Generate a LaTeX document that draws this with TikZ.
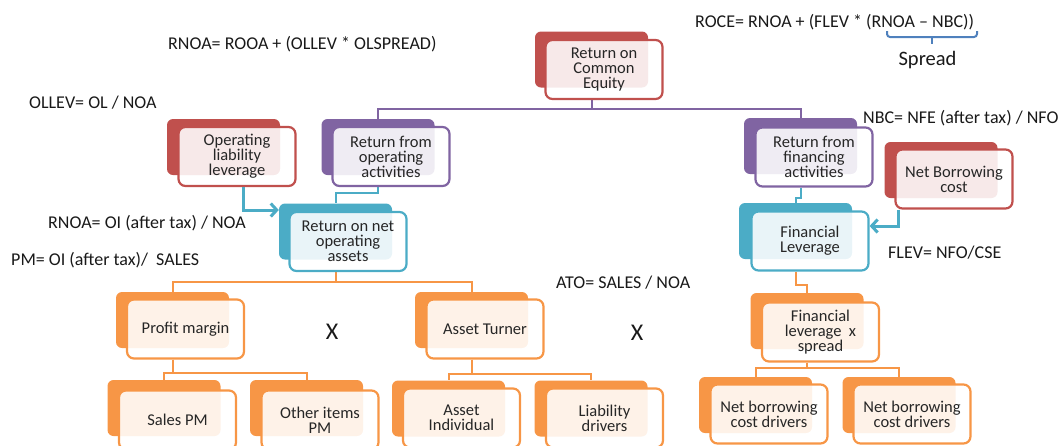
\documentclass[tikz,border=0pt]{standalone}
\usepackage{fontspec}
\setmainfont{Carlito}
\usetikzlibrary{arrows.meta,backgrounds,calc}
\definecolor{cred}{HTML}{C0504D}
\definecolor{cpur}{HTML}{8064A2}
\definecolor{cteal}{HTML}{4BACC6}
\definecolor{corg}{HTML}{F79646}
\definecolor{cblue}{HTML}{4F81BD}
\tikzset{
 backbox/.style={rounded corners=6pt, fill=#1, draw=none, minimum width=113pt, minimum height=56pt, inner sep=0pt},
 frontbox/.style={rounded corners=7pt, draw=#1, line width=2.2pt, fill=white, fill opacity=0.88, text opacity=1, minimum width=117pt, minimum height=59pt, inner sep=0pt, align=center, font=\fontsize{16.5}{15}\selectfont, text=black!85},
 conn/.style={draw=#1, line width=2pt},
 arr/.style={draw=cteal, line width=3pt, -{Straight Barb[length=6pt,width=13pt]}},
 lbl/.style={inner sep=0pt, font=\fontsize{18}{20}\selectfont, text=black!90, anchor=west},
}
\newcommand\smbox[5]{\node[backbox=#2] (#1b) at #3 {}; \node[frontbox=#2] (#1) at #4 {#5};}
\begin{document}
\begin{tikzpicture}[x=1pt,y=-1pt]
\useasboundingbox (0,0) rectangle (1063,445);
\clip (0,0) rectangle (1063,445);
% boxes
\smbox{rce}{cred}{(591.5,59.5)}{(604,69.5)}{Return on\\Common\\Equity}
\smbox{oll}{cred}{(223.5,147)}{(237,156.5)}{Operating\\liability\\leverage}
\smbox{rfo}{cpur}{(378,147)}{(391,156.5)}{Return from\\operating\\activities}
\smbox{rnoa}{cteal}{(335.5,231.5)}{(348,241.5)}{Return on net\\operating\\assets}
\smbox{rff}{cpur}{(800.5,146)}{(814,157)}{Return from\\financing\\activities}
\smbox{nbc}{cred}{(941,170)}{(954,179)}{Net Borrowing\\cost}
\smbox{fl}{cteal}{(795.5,231)}{(810,241)}{Financial\\Leverage}
\smbox{pm}{corg}{(172.5,320)}{(185.5,329)}{Profit margin}
\smbox{at}{corg}{(471.5,320)}{(485,329)}{Asset Turner}
\smbox{flx}{corg}{(807,321)}{(820.5,332)}{Financial\\leverage\ \ x\\spread}
\smbox{sales}{corg}{(164,408)}{(177.5,420)}{Sales PM}
\smbox{other}{corg}{(306.5,408)}{(320,420)}{Other items\\PM}
\smbox{ai}{corg}{(448.5,408.5)}{(461.5,418)}{Asset\\Individual}
\smbox{ld}{corg}{(591,408.5)}{(604.5,418)}{Liability\\drivers}
\smbox{da}{corg}{(755.5,405)}{(769,414)}{Net borrowing\\cost drivers}
\smbox{db}{corg}{(899,405)}{(912,414)}{Net borrowing\\cost drivers}
% connectors
\begin{pgfonlayer}{background}
\draw[conn=cpur] (rceb.south |- rce.south) -- ++(0,9) -| (rfob.north);
\draw[conn=cpur] (rceb.south |- rce.south) -- ++(0,9) -| (rffb.north);
\draw[conn=cteal] (rfob.south |- rfo.south) -- ++(0,6) -| (rnoab.north);
\draw[conn=cteal] (rffb.south |- rff.south) -- ++(0,10) -| (flb.north);
\draw[conn=corg] (rnoab.south |- rnoa.south) -- ++(0,10) -| (pmb.north);
\draw[conn=corg] (rnoab.south |- rnoa.south) -- ++(0,10) -| (atb.north);
\draw[conn=corg] (pmb.south |- pm.south) -- ++(0,13) -| (salesb.north);
\draw[conn=corg] (pmb.south |- pm.south) -- ++(0,13) -| (otherb.north);
\draw[conn=corg] (atb.south |- at.south) -- ++(0,14) -| (aib.north);
\draw[conn=corg] (atb.south |- at.south) -- ++(0,14) -| (ldb.north);
\draw[conn=corg] (flb.south |- fl.south) -- ++(0,13) -| (flxb.north);
\draw[conn=corg] (flxb.south |- flx.south) -- ++(0,5) -| (dab.north);
\draw[conn=corg] (flxb.south |- flx.south) -- ++(0,5) -| (dbb.north);
\end{pgfonlayer}
% arrows
\draw[arr] ([xshift=6pt]oll.south) |- ([yshift=21.5pt]rnoab.west);
\draw[arr] ([xshift=4pt]nbc.south west) |- ([yshift=15pt]fl.east);
% labels
\node[lbl] (l1) at (168,44) {RNOA= ROOA + (OLLEV * OLSPREAD)};
\node[lbl] (l2) at (29,103) {OLLEV= OL / NOA};
\node[lbl] (l3) at (48,223) {RNOA= OI (after tax) / NOA};
\node[lbl] (l4) at (11,260) {PM= OI (after tax)/\ \ SALES};
\node[lbl] (l5) at (695,22) {ROCE= RNOA + (FLEV * (RNOA – NBC))};
\node[lbl] (l6) at (863,118) {NBC= NFE (after tax) / NFO};
\node[lbl] (l7) at (888,253) {FLEV= NFO/CSE};
\node[lbl] (l8) at (556,283) {ATO= SALES / NOA};
\node[inner sep=0pt, font=\fontsize{20.5}{22}\selectfont, text=black!90] (sp) at (927.5,60) {Spread};
\node[inner sep=0pt, font=\fontsize{24}{26}\selectfont, text=black!90] (x1) at (332,332) {X};
\node[inner sep=0pt, font=\fontsize{24}{26}\selectfont, text=black!90] (x2) at (637,333) {X};
% brace
\draw[cblue, line width=2pt, rounded corners=3pt] (887,31) -- (887,37) -- (977,37) -- (977,31);
\draw[cblue, line width=2pt] (932,37) -- (932,44);
\end{tikzpicture}
\end{document}
